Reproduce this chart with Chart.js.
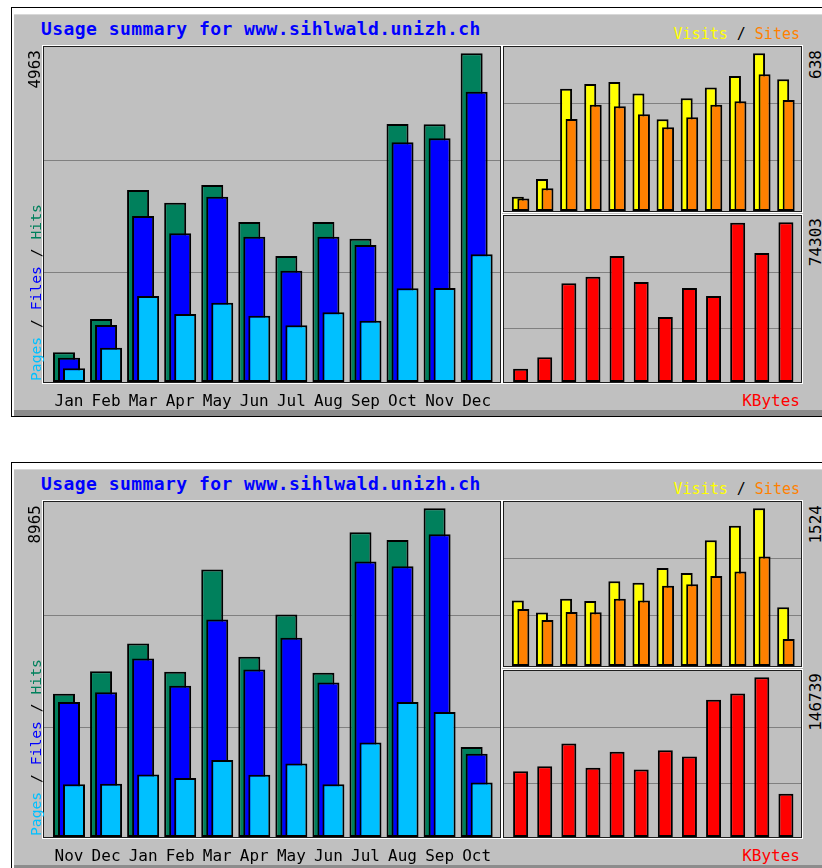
<!DOCTYPE html>
<html><head><meta charset="utf-8">
<script src="https://cdn.jsdelivr.net/npm/chart.js@4.4.1/dist/chart.umd.min.js"></script>
<style>
html,body{margin:0;padding:0;background:#fff;}
body{width:822px;height:868px;overflow:hidden;position:relative;font-family:"DejaVu Sans Mono",monospace;}
.wrap{position:absolute;left:0;width:822px;height:455px;overflow:hidden;}
.outer{position:absolute;left:11px;top:7px;width:840px;height:408px;border:1px solid #000;background:#fff;}
.gray{position:absolute;left:2px;top:6px;right:0;bottom:0;background:#c0c0c0;border-top:1px solid #d8d8d8;border-bottom:6px solid #8c8c8c;box-sizing:border-box;}
.wf{position:absolute;border:1px solid #fff;box-sizing:border-box;}
.df{position:absolute;border:1px solid #1e1e1e;box-sizing:border-box;}
canvas{position:absolute;}
.t{position:absolute;white-space:nowrap;}
.rot{position:absolute;white-space:nowrap;transform-origin:0 0;transform:rotate(-90deg);}
</style></head><body>
<script>
// ---------- data ----------
const title = 'Usage summary for www.sihlwald.unizh.ch';

const months1 = ['Jan','Feb','Mar','Apr','May','Jun','Jul','Aug','Sep','Oct','Nov','Dec'];
const hits1   = [448, 951, 2899, 2708, 2975, 2416, 1903, 2416, 2164, 3896, 3890, 4963];
const files1  = [367, 861, 2507, 2245, 2798, 2194, 1681, 2194, 2069, 3619, 3680, 4384];
const pages1  = [207, 518, 1299, 1027, 1198, 1001, 856, 1052, 926, 1415, 1420, 1928];
const visits1 = [58, 129, 495, 514, 522, 475, 371, 456, 500, 546, 638, 533];
const sites1  = [51, 92, 372, 430, 424, 391, 339, 379, 430, 444, 553, 449];
const kbytes1 = [6189, 11493, 45925, 48996, 58628, 46530, 30245, 43738, 40016, 74100, 60024, 74303];
const maxLabels1 = ['4963', '638', '74303'];

const months2 = ['Nov','Dec','Jan','Feb','Mar','Apr','May','Jun','Jul','Aug','Sep','Oct'];
const hits2   = [3904, 4523, 5280, 4510, 7297, 4917, 6066, 4479, 8309, 8099, 8965, 2454];
const files2  = [3685, 3948, 4870, 4123, 5929, 4569, 5436, 4213, 7516, 7387, 8255, 2271];
const pages2  = [1442, 1450, 1705, 1606, 2099, 1700, 2005, 1440, 2580, 3685, 3412, 1486];
const visits2 = [632, 518, 649, 629, 820, 804, 946, 898, 1216, 1355, 1524, 567];
const sites2  = [551, 444, 522, 520, 649, 632, 775, 791, 869, 914, 1057, 260];
const kbytes2 = [60376, 65000, 85988, 63520, 78314, 61948, 79793, 73968, 126023, 131940, 146739, 39758];
const maxLabels2 = ['8965', '1524', '146739'];

// ---------- style / layout ----------
const FONT = '"DejaVu Sans Mono", monospace';
const COL = {hits:'#00805c', files:'#0000ff', pages:'#00c0ff', visits:'#ffff00', sites:'#ff8000', kbytes:'#ff0000', grid:'#808080', title:'#0000ff'};
const LAY = {
  main: {left:44,  top:47,  w:456, h:335, lbl:30, xmin:-0.6746, xmax:11.630, shift:0.135, bar:22, grid:[160.3,272.7], maxTop:53.3},
  vis:  {left:504, top:47,  w:297, h:164, xmin:-0.688, xmax:11.625, shift:0.114, bar:12, grid:[103.7,160.2], maxTop:53.3},
  kb:   {left:504, top:216, w:297, h:166, xmin:-0.688, xmax:11.625, bar:15, grid:[272.7,328.3], maxTop:222.3}
};

function el(tag, cls, parent, css){ const e=document.createElement(tag); if(cls) e.className=cls; if(css) Object.assign(e.style, css); parent.appendChild(e); return e; }
function box(parent, cls, x, y, w, h){ return el('div', cls, parent, {left:x+'px', top:y+'px', width:w+'px', height:h+'px'}); }
const ASC = 0.928, LH = 1.164;
function text(parent, html, o){
  const d = el('div','t',parent,{top:(o.base - ASC*o.size)+'px', fontSize:o.size+'px', lineHeight:(LH*o.size)+'px',
    color:o.color||'#000', fontWeight:o.bold?'bold':'normal', letterSpacing:(o.ls||0)+'px'});
  if (o.left!=null) d.style.left = o.left+'px'; else d.style.right = (822 - o.right)+'px';
  d.innerHTML = html; return d;
}
function rtext(parent, html, o){
  const W = 300;
  const d = el('div','rot',parent,{left:(o.bx - ASC*o.size)+'px', width:W+'px', fontSize:o.size+'px', lineHeight:(LH*o.size)+'px',
    color:o.color||'#000', textAlign:o.anchor==='end'?'right':'left', top:(o.anchor==='end'? o.y+W : o.y)+'px'});
  d.innerHTML = html; return d;
}

function yScale(lay, dataMax){
  const ymax = dataMax * lay.h / (lay.top + lay.h - lay.maxTop);
  const vals = lay.grid.map(p => ymax * (lay.top + lay.h - p) / lay.h);
  return { min:0, max:ymax, display:true,
    afterBuildTicks: s => { s.ticks = vals.map(v => ({value:v})); },
    afterFit: s => { s.width = 0; s.paddingTop = 0; s.paddingBottom = 0; s.paddingLeft = 0; s.paddingRight = 0; },
    ticks:{display:false}, border:{display:false},
    grid:{color:COL.grid, lineWidth:1, drawTicks:false} };
}
function hiddenX(lay, shift){ return {type:'linear', display:false, offset:false, min:lay.xmin + shift, max:lay.xmax + shift}; }
function ds(label, values, color, lay, axis, order){
  const spacing = lay.w / (lay.xmax - lay.xmin);   // pixels between months
  return {label, data: values.map((v,i)=>({x:i, y:v})), xAxisID: axis, backgroundColor:color, borderColor:'#000',
    borderWidth:2, borderSkipped:false, grouped:false, categoryPercentage:1, barPercentage: lay.bar / spacing, order};
}
const BASE = {responsive:false, maintainAspectRatio:false, animation:false, events:[], layout:{padding:0},
  plugins:{legend:{display:false}, tooltip:{enabled:false}}};

function canvasAt(parent, x, y, w, h){
  const c = el('canvas', null, parent, {left:x+'px', top:y+'px', width:w+'px', height:h+'px'});
  c.width = w; c.height = h; return c;
}

function buildPanel(dy, months, hits, files, pages, visits, sites, kbytes, maxLabels){
  const wrap = el('div','wrap',document.body,{top:dy+'px'});
  const outer = el('div','outer',wrap); el('div','gray',outer);
  // frames
  box(wrap,'wf',42,45,460,339);  box(wrap,'df',43,46,458,337);
  box(wrap,'wf',502,45,301,168); box(wrap,'df',503,46,299,166);
  box(wrap,'wf',502,214,301,170); box(wrap,'df',503,215,299,168);

  // main chart: hits / files / pages
  const m = LAY.main;
  new Chart(canvasAt(wrap, m.left, m.top, m.w, m.h + m.lbl), {
    type:'bar',
    data:{datasets:[
      ds('Pages', pages, COL.pages, m, 'xp', 1),
      ds('Files', files, COL.files, m, 'x', 2),
      ds('Hits',  hits,  COL.hits,  m, 'xh', 3)
    ]},
    options:Object.assign({}, BASE, {scales:{
      x:{type:'linear', min:m.xmin, max:m.xmax, offset:false,
         grid:{display:false, drawTicks:false}, border:{display:false},
         afterBuildTicks: s => { s.ticks = months.map((mm,i)=>({value:i})); },
         afterFit: s => { s.height = m.lbl; s.paddingLeft = 0; s.paddingRight = 0; },
         ticks:{autoSkip:false, maxRotation:0, minRotation:0, padding:10, color:'#000',
                font:{family:FONT, size:16}, callback: v => months[v]}},
      xh: hiddenX(m, m.shift),
      xp: hiddenX(m, -m.shift),
      y: yScale(m, Math.max(...hits))
    }})
  });

  // visits / sites
  const v = LAY.vis;
  new Chart(canvasAt(wrap, v.left, v.top, v.w, v.h), {
    type:'bar',
    data:{datasets:[
      ds('Sites', sites, COL.sites, v, 'xs', 1),
      ds('Visits', visits, COL.visits, v, 'x', 2)
    ]},
    options:Object.assign({}, BASE, {scales:{
      x: hiddenX(v, v.shift),
      xs: hiddenX(v, -v.shift),
      y: yScale(v, Math.max(...visits))
    }})
  });

  // kbytes
  const k = LAY.kb;
  new Chart(canvasAt(wrap, k.left, k.top, k.w, k.h), {
    type:'bar',
    data:{datasets:[ ds('KBytes', kbytes, COL.kbytes, k, 'x', 1) ]},
    options:Object.assign({}, BASE, {scales:{
      x: hiddenX(k, 0),
      y: yScale(k, Math.max(...kbytes))
    }})
  });

  // texts
  text(wrap, title, {left:41, base:36, size:18, bold:true, color:COL.title, ls:0.44});
  text(wrap, '<span style="color:'+COL.visits+'">Visits</span> / <span style="color:'+COL.sites+'">Sites</span>', {right:800, base:40, size:15});
  text(wrap, 'KBytes', {right:800, base:407, size:16, color:COL.kbytes});
  rtext(wrap, maxLabels[0], {bx:41, y:50, anchor:'end', size:16});
  rtext(wrap, '<span style="color:'+COL.pages+'">Pages</span> / <span style="color:'+COL.files+'">Files</span> / <span style="color:'+COL.hits+'">Hits</span>', {bx:41, y:381, anchor:'start', size:14.7});
  rtext(wrap, maxLabels[1], {bx:822, y:50, anchor:'end', size:16});
  rtext(wrap, maxLabels[2], {bx:822, y:218, anchor:'end', size:16});
}

buildPanel(0,   months1, hits1, files1, pages1, visits1, sites1, kbytes1, maxLabels1);
buildPanel(455, months2, hits2, files2, pages2, visits2, sites2, kbytes2, maxLabels2);
</script>
</body></html>
